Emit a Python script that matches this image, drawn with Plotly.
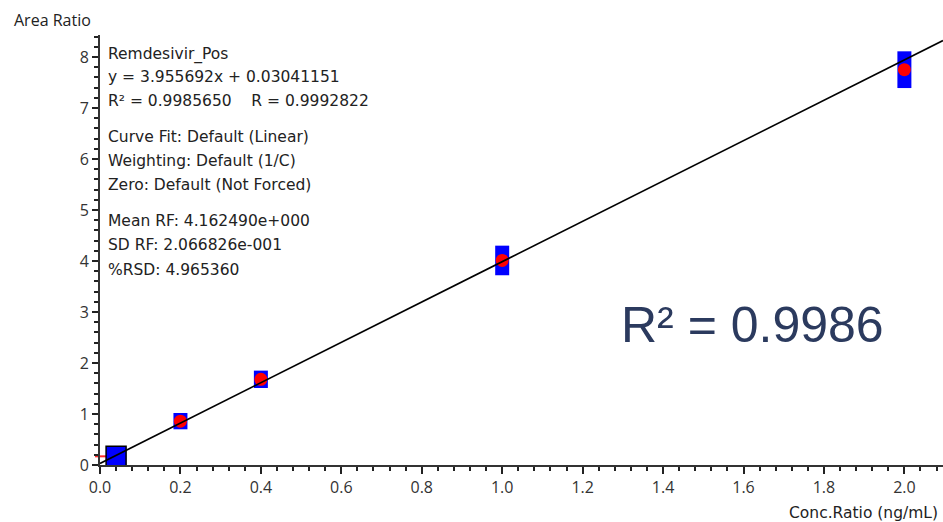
import plotly.graph_objects as go

# ---- data ----
conc = [0.2, 0.4, 1.0, 2.0]
area = [0.86, 1.68, 4.01, 7.75]
spread = [0.16, 0.17, 0.29, 0.36]      # half-height of blue range boxes
low_conc = [0.04]
low_area = [0.17]
slope = 3.955692
intercept = 0.03041151
x_max = 2.096
y_max = 8.43

info_lines = [
    ("Remdesivir_Pos", 54),
    ("y = 3.955692x + 0.03041151", 77),
    ("R² = 0.9985650    R = 0.9992822", 101),
    ("Curve Fit: Default (Linear)", 137),
    ("Weighting: Default (1/C)", 161),
    ("Zero: Default (Not Forced)", 185),
    ("Mean RF: 4.162490e+000", 221),
    ("SD RF: 2.066826e-001", 245),
    ("%RSD: 4.965360", 270),
]

FONT = "Open Sans"
TXT = "DejaVu Sans"
L, T, W, H = 100, 35, 843, 430


def px(X):
    return (X - L) / W


def py(Y):
    return (T + H - Y) / H


fig = go.Figure()

# calibration points: blue range boxes (as thick error bars) + red circles
fig.add_trace(go.Scatter(
    x=conc, y=area, mode="markers",
    marker=dict(symbol="circle", size=13, color="#ff0000", line=dict(width=0)),
    error_y=dict(type="data", array=spread, symmetric=True, thickness=14,
                 width=0, color="#0000ff"),
    showlegend=False, hoverinfo="skip",
))

# lowest point: blue square with black border
fig.add_trace(go.Scatter(
    x=low_conc, y=low_area, mode="markers",
    marker=dict(symbol="square", size=20, color="#0000ff",
                line=dict(width=1.5, color="#000000")),
    showlegend=False, hoverinfo="skip",
))

# regression line
fig.add_trace(go.Scatter(
    x=[0, x_max], y=[intercept, slope * x_max + intercept], mode="lines",
    line=dict(color="#000000", width=1.6),
    showlegend=False, hoverinfo="skip",
))

# small red marker on axis at lowest level
fig.add_shape(type="line", xref="paper", yref="y",
              x0=px(95), x1=px(108), y0=low_area[0], y1=low_area[0],
              line=dict(color="#ff2a2a", width=2), layer="below")

annotations = []
for text, yy in info_lines:
    annotations.append(dict(
        text=text, xref="paper", yref="paper", x=px(106), y=py(yy),
        xanchor="left", yanchor="middle", showarrow=False,
        font=dict(family=TXT, size=15.5, color="#222222"),
    ))

annotations.append(dict(
    text="Area Ratio", xref="paper", yref="paper", x=px(12), y=py(20),
    xanchor="left", yanchor="middle", showarrow=False,
    font=dict(family=FONT, size=16, color="#222222"),
))
annotations.append(dict(
    text="Conc.Ratio (ng/mL)", xref="paper", yref="paper", x=px(940), y=py(513),
    xanchor="right", yanchor="middle", showarrow=False,
    font=dict(family=TXT, size=15.5, color="#222222"),
))
annotations.append(dict(
    text="R² = 0.9986", xref="paper", yref="paper", x=px(752), y=py(325),
    xanchor="center", yanchor="middle", showarrow=False,
    font=dict(family="Liberation Sans, Arial", size=50, color="#2b3a5e"),
))

fig.update_layout(
    width=943, height=522,
    margin=dict(l=L, r=943 - L - W, t=T, b=522 - T - H),
    plot_bgcolor="white", paper_bgcolor="white",
    annotations=annotations,
    font=dict(family=FONT, color="#333333"),
    xaxis=dict(
        range=[0, x_max], dtick=0.2, tick0=0, tickformat=".1f",
        showgrid=False, zeroline=False,
        showline=True, linecolor="#333333", linewidth=2,
        ticks="outside", ticklen=7, tickwidth=1.5, tickcolor="#222222",
        tickfont=dict(family=FONT, size=16, color="#333333"),
        minor=dict(dtick=0.04, tick0=0, ticks="outside", ticklen=4,
                   tickwidth=1.5, tickcolor="#222222", showgrid=False),
    ),
    yaxis=dict(
        range=[0, y_max], dtick=1, tick0=0,
        showgrid=False, zeroline=False,
        showline=True, linecolor="#333333", linewidth=2,
        ticks="outside", ticklen=6, tickwidth=1.5, tickcolor="#222222",
        tickfont=dict(family=FONT, size=16, color="#333333"),
        minor=dict(dtick=0.2, tick0=0, ticks="outside", ticklen=4,
                   tickwidth=1.5, tickcolor="#222222", showgrid=False),
    ),
)

fig.write_html("out.html")
